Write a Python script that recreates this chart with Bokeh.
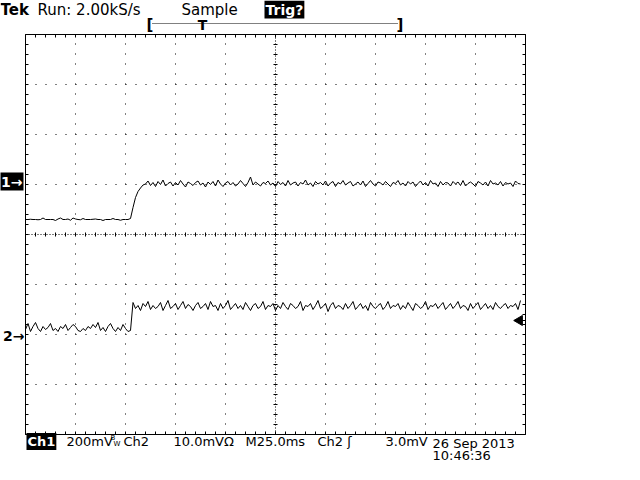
import numpy as np
from bokeh.plotting import figure
from bokeh.models import Range1d, Label
from bokeh.embed import file_html
from bokeh.resources import INLINE

# ---------------- data ----------------
SAMPLE_MS = 1.25          # spacing of the digitised samples
TIME_DIV_MS = 25.0        # M25.0ms
CH1_MV_DIV = 200.0        # Ch1 200mV
CH2_MV_DIV = 10.0         # Ch2 10.0mV
CH1_POS_DIV = 1.06        # Ch1 ground marker position (divisions from centre)
CH2_POS_DIV = -2.02       # Ch2 ground marker position
TRIG_LEVEL_MV = 3.0       # Ch2 trigger level

ch1_mv = [
    -152, -152, -151, -152, -152, -153, -152, -146, -152, -152,
    -152, -152, -156, -150, -146, -152, -152, -150, -155, -146,
    -150, -152, -153, -148, -152, -152, -152, -151, -150, -152,
    -152, -156, -152, -152, -152, -148, -152, -152, -155, -152,
    -152, -152,
    -148, -104, -64, -40, -26, -14, -10,
    2, -16, -4, -20, 0, -12, 6, -18, -8, -2,
    -18, -4, -14, 4, -10, -22, -2, -8, -16, -4,
    2, -14, -6, -22, -2, -12, 0, -18, 6, -10,
    -20, -6, 0, -14, -4, -18, -10, 4, -8, -20,
    -4, 18, -14, -2, -10, -18, -4, -8, 2, -14,
    -6, -20, 0, -12, -4, -18, 4, -14, -6, -2,
    -18, -4, -10, 6, -14, -6, -20, 0, -10, -4,
    -14, 2, -18, -6, 0, -20, -4, -10, 4, -14,
    -6, 0, -18, -10, -2, -14, 2, -20, -8, 4,
    -10, -18, -2, -6, -14, 0, -10, -20, -4, -8,
    4, -14, -6, -18, 0, -10, -2, -20, -8, 2,
    -14, -4, -18, 4, -10, -6, -20, 0, -14, -4,
    -6, -18, 0, -10, -2, -16, 4, -18, -8, -2,
    -10, -20, 0, -6, -14, -2, -18, 4, -10, -6,
    -14, 0, -18, -4, -10, -6, -20, 2, -8, -10,
]

ch2_mv = [
    1.2, 2.4, 0.8, 1.8, 2.6, 1.4, 0.8, 1.8, 1.2, 1.6,
    2.4, 1.0, 1.4, 0.8, 1.8, 1.4, 2.2, 1.0, 1.6, 2.2,
    1.8, 1.0, 0.8, 1.4, 1.0, 1.8, 1.4, 2.2, 1.6, 2.6,
    1.0, 1.6, 0.8, 1.8, 2.4, 1.4, 0.8, 1.6, 1.0, 2.2,
    1.4, 0.8, 1.0,
    6.6, 5.4, 6.0, 5.0, 6.4, 5.8, 6.8, 5.2, 6.0, 5.4,
    5.8, 6.6, 5.0, 6.0, 7.0, 5.4, 5.8, 6.4, 5.2, 6.0,
    6.8, 5.4, 6.2, 5.8, 5.0, 6.0, 6.6, 5.4, 5.8, 6.4,
    5.2, 6.8, 5.8, 6.0, 5.0, 6.4, 5.4, 6.0, 7.0, 5.2,
    5.8, 6.4, 5.4, 6.0, 5.2, 6.6, 5.8, 5.0, 6.0, 6.4,
    5.4, 5.8, 6.8, 5.2, 6.0, 5.8, 6.4, 5.0, 6.0, 5.4,
    6.6, 5.8, 5.2, 6.4, 6.0, 5.4, 5.8, 6.8, 5.0, 6.0,
    5.8, 6.4, 5.2, 6.0, 7.0, 5.4, 5.8, 6.4, 4.8, 6.0,
    6.6, 5.4, 6.0, 5.8, 5.2, 6.4, 5.4, 6.0, 6.8, 5.2,
    5.8, 6.4, 5.4, 6.0, 5.0, 6.6, 5.8, 5.4, 6.0, 6.4,
    5.2, 5.8, 6.8, 5.4, 6.0, 5.8, 6.4, 5.2, 6.0, 5.4,
    6.6, 5.8, 5.0, 6.4, 6.0, 5.4, 5.8, 6.8, 5.2, 6.0,
    5.8, 6.4, 5.4, 6.0, 6.6, 5.2, 5.8, 6.4, 5.4, 6.0,
    6.8, 5.4, 6.0, 5.8, 5.0, 6.4, 5.4, 6.0, 6.6, 5.2,
    5.8, 6.4, 5.4, 6.0, 5.2, 6.6, 5.8, 5.4, 6.0, 6.4,
    5.4, 6.0, 5.8, 6.4, 5.2, 7.0,
]

t1_ms = [i * SAMPLE_MS for i in range(len(ch1_mv))]
t2_ms = [i * SAMPLE_MS for i in range(len(ch2_mv))]

header_texts = ["Run: 2.00kS/s", "Sample"]
footer_texts = ["200mV", "Ch2", "10.0mV\u03a9", "M25.0ms", "Ch2 \u0283", "3.0mV"]

# ---------------- figure ----------------
W, H = 624, 464
XDIV, YDIV = 10, 8
x_end = XDIV * TIME_DIV_MS
FONT = "DejaVu Sans"
# graticule occupies page pixels x 25..525, y 34..434 (50 px per division)
GX0, GY_C, PX_DIV = 25, 234, 50
MS_PER_PX = TIME_DIV_MS / PX_DIV


def px(X):  # page x -> time (ms)
    return (X - GX0) * MS_PER_PX


def py(Y):  # page y -> divisions
    return (GY_C - Y) / PX_DIV


y_lo, y_hi = py(H), py(0)
p = figure(width=W, height=H, output_backend="svg", toolbar_location=None,
           x_range=Range1d(px(0), px(W)), y_range=Range1d(y_lo, y_hi),
           x_axis_location=None, y_axis_location=None,
           min_border=0, min_border_left=0, min_border_right=0,
           min_border_top=0, min_border_bottom=0,
           background_fill_color="white", border_fill_color="white",
           outline_line_color=None)
p.grid.visible = False

p.extra_y_ranges = {
    "ch1": Range1d((y_lo - CH1_POS_DIV) * CH1_MV_DIV, (y_hi - CH1_POS_DIV) * CH1_MV_DIV),
    "ch2": Range1d((y_lo - CH2_POS_DIV) * CH2_MV_DIV, (y_hi - CH2_POS_DIV) * CH2_MV_DIV),
}

top, bot = YDIV / 2, -YDIV / 2
x_major = [i * TIME_DIV_MS for i in range(XDIV + 1)]
x_minor = [i * TIME_DIV_MS / 5 for i in range(XDIV * 5 + 1)]
y_major = [bot + i for i in range(YDIV + 1)]
y_minor = [round(bot + i * 0.2, 3) for i in range(YDIV * 5 + 1)]
tick_y = 3 / PX_DIV
tick_x = 3 * MS_PER_PX

# border
p.line([0, x_end, x_end, 0, 0], [bot, bot, top, top, bot], line_color="black", line_width=1)
# border ticks (inward)
p.segment(x0=x_minor, y0=[bot] * len(x_minor), x1=x_minor, y1=[bot + tick_y] * len(x_minor),
          line_color="black")
p.segment(x0=x_minor, y0=[top] * len(x_minor), x1=x_minor, y1=[top - tick_y] * len(x_minor),
          line_color="black")
p.segment(x0=[0] * len(y_minor), y0=y_minor, x1=[tick_x] * len(y_minor), y1=y_minor,
          line_color="black")
p.segment(x0=[x_end] * len(y_minor), y0=y_minor, x1=[x_end - tick_x] * len(y_minor), y1=y_minor,
          line_color="black")

# dotted grid
gx = [x for x in x_major[1:-1] if x != x_end / 2]
gy = [y for y in y_major[1:-1] if y != 0]
p.segment(x0=gx, y0=[bot] * len(gx), x1=gx, y1=[top] * len(gx),
          line_color="black", line_dash="1 9")
p.segment(x0=[0] * len(gy), y0=gy, x1=[x_end] * len(gy), y1=gy,
          line_color="black", line_dash="1 9")
# centre lines, denser dots + ticks
p.segment(x0=[x_end / 2], y0=[bot], x1=[x_end / 2], y1=[top], line_color="black", line_dash="1 2")
p.segment(x0=[0], y0=[0], x1=[x_end], y1=[0], line_color="black", line_dash="1 2")
ct_y = 2 / PX_DIV
ct_x = 2 * MS_PER_PX
p.segment(x0=x_minor, y0=[-ct_y] * len(x_minor), x1=x_minor, y1=[ct_y] * len(x_minor),
          line_color="black")
p.segment(x0=[x_end / 2 - ct_x] * len(y_minor), y0=y_minor,
          x1=[x_end / 2 + ct_x] * len(y_minor), y1=y_minor, line_color="black")

# traces
p.line(t1_ms, ch1_mv, y_range_name="ch1", line_color="black", line_width=1)
p.line(t2_ms, ch2_mv, y_range_name="ch2", line_color="black", line_width=1)

# trigger level marker (right edge)
p.scatter(x=[x_end - 6 * MS_PER_PX], y=[TRIG_LEVEL_MV], y_range_name="ch2", marker="triangle",
          angle=np.pi / 2, size=10, color="black")
p.segment(x0=[x_end - 6 * MS_PER_PX], y0=[TRIG_LEVEL_MV], x1=[x_end], y1=[TRIG_LEVEL_MV],
          y_range_name="ch2", line_color="black")


def lab(text, X, Y, size="14px", bold=False, inverse=False, align="left", pad=0):
    if inverse:
        kw = dict(background_fill_color="black", text_color="white", padding=pad)
    else:
        kw = dict(text_color="black")
    p.add_layout(Label(x=px(X), y=py(Y), text=text, text_font=FONT, text_font_size=size,
                       text_font_style="bold" if bold else "normal",
                       text_align=align, text_baseline="middle", **kw))


# header
lab("Tek", 0, 9, size="15px", bold=True)
lab(header_texts[0], 37, 9, size="15px")
lab(header_texts[1], 181, 9, size="15px")
lab("Trig?", 264, 9, size="14px", bold=True, inverse=True, pad=1)
lab("[", 146, 24, size="15px", bold=True)
lab("]", 396, 24, size="15px", bold=True)
lab("T", 202, 24, size="14px", bold=True, align="center")
p.segment(x0=[px(152)], y0=[py(23)], x1=[px(397)], y1=[py(23)],
          line_color="black", line_dash="1 1")

# channel markers
lab("1\u2192", 23, 181, size="14px", bold=True, inverse=True, align="right", pad=1)
lab("2\u2192", 24, 335, size="14px", bold=True, align="right")

# footer
lab("Ch1", 26, 441, size="13px", bold=True, inverse=True, pad=1)
lab(footer_texts[0], 66, 441, size="13px")
lab("B", 110, 437, size="7px")
lab("W", 113, 443, size="7px")
lab(footer_texts[1], 123, 441, size="13px")
lab(footer_texts[2], 173, 441, size="13px")
lab(footer_texts[3], 245, 441, size="13px")
lab(footer_texts[4], 317, 441, size="13px")
lab(footer_texts[5], 385, 441, size="13px")
lab("26 Sep 2013", 432, 443, size="13px")
lab("10:46:36", 432, 455, size="13px")

open("out.html", "w").write(file_html(p, INLINE))
